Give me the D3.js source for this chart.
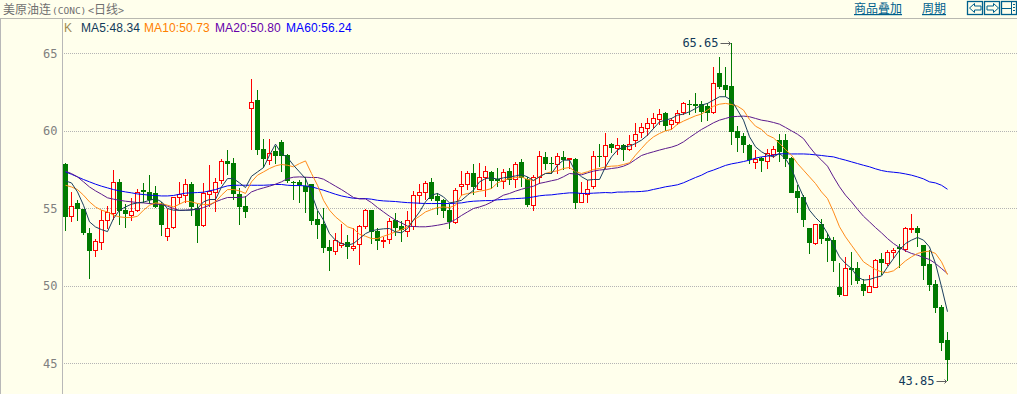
<!DOCTYPE html>
<html>
<head>
<meta charset="utf-8">
<script src="https://cdn.jsdelivr.net/npm/d3@7/dist/d3.min.js"></script>
<style>
html, body { margin: 0; padding: 0; background: #ffffec; overflow: hidden; }
</style>
</head>
<body>
<svg id="chart" width="1017" height="394"></svg>
<script>
// daily candles, oldest first
let opens = [57.86,54.55,55.38,54.95,53.41,52.33,52.87,54.27,54.74,56.74,
	54.89,54.61,54.93,56.18,56.05,55.99,55.28,53.26,53.77,55.71,
	55.90,56.61,55.02,53.88,55.94,56.12,56.80,58.05,57.92,55.92,
	55.15,61.51,61.99,58.82,58.14,58.70,59.30,58.44,56.70,56.68,
	56.48,56.57,54.31,53.99,52.50,52.29,52.65,52.83,52.50,52.65,
	53.90,54.89,53.54,52.91,53.04,54.29,53.86,53.56,53.88,55.90,
	56.07,56.70,55.79,55.53,54.89,54.14,56.40,56.52,57.28,56.31,
	57.04,57.38,56.91,56.80,57.41,56.93,57.99,56.89,55.23,57.00,
	58.31,57.93,57.86,58.31,58.16,58.18,55.41,55.97,56.40,58.38,
	58.36,59.15,58.89,59.07,58.85,59.37,59.88,60.14,60.49,60.79,
	61.15,60.40,60.59,61.17,61.75,61.73,61.71,61.60,61.19,63.73,
	62.96,62.89,60.00,59.67,59.07,58.01,58.25,58.10,58.57,59.40,
	59.40,58.29,56.12,55.71,53.73,52.72,53.99,53.08,52.96,49.92,
	49.47,51.19,51.15,50.10,49.58,49.97,51.73,51.49,52.22,52.50,
	52.35,53.66,53.73,52.63,51.41,50.12,48.63,46.50];
let closes = [54.46,55.19,54.98,53.43,52.27,52.93,54.29,54.80,56.74,54.89,
	54.63,54.87,56.09,56.05,55.53,55.06,53.94,53.77,55.71,55.92,
	56.61,55.10,53.88,55.97,56.16,56.74,58.05,57.86,55.92,55.10,
	54.78,61.90,58.76,58.20,58.61,58.37,58.39,56.78,56.63,56.46,
	56.12,54.20,53.92,52.46,52.27,53.00,52.80,52.52,52.61,53.84,
	54.93,53.47,52.91,52.96,54.22,53.79,53.60,54.29,55.90,56.09,
	56.63,55.62,55.47,54.85,54.14,56.22,56.55,57.26,56.35,57.06,
	57.45,56.82,56.76,57.38,56.82,57.90,56.95,55.21,57.06,58.36,
	57.86,57.88,58.36,58.12,58.25,55.37,55.97,56.29,58.36,58.33,
	59.07,58.89,59.07,58.77,59.17,59.78,60.23,60.49,60.81,61.09,
	60.33,60.68,61.15,61.78,61.71,61.62,61.17,61.17,63.09,62.85,
	62.63,59.95,59.56,59.09,58.08,58.18,58.08,58.59,58.87,58.61,
	58.20,56.05,55.66,54.20,52.76,53.97,53.04,52.91,51.62,49.41,
	51.19,51.06,50.33,49.62,49.97,51.69,51.49,52.20,52.35,52.35,
	53.71,53.71,53.43,51.30,50.07,48.57,46.33,45.24];
let highs = [57.96,56.05,55.58,54.98,53.77,53.06,54.93,55.19,57.47,56.89,
	55.32,55.66,56.29,56.65,57.15,56.48,55.43,55.00,55.71,56.74,
	56.89,56.74,55.28,56.63,57.79,56.95,58.18,58.76,58.29,56.35,
	55.79,63.38,62.63,59.51,59.51,59.02,59.43,58.50,56.78,56.87,
	57.04,56.57,54.83,55.06,52.95,53.45,54.03,53.26,53.77,53.92,
	54.95,54.89,53.71,53.17,54.37,54.68,54.20,54.83,56.12,56.55,
	56.76,56.98,55.97,55.64,55.28,56.35,57.45,57.43,57.86,57.92,
	57.75,57.41,57.62,57.58,57.64,57.99,58.18,57.04,57.15,58.72,
	58.64,58.33,58.59,58.68,58.29,58.23,56.68,56.83,58.72,59.15,
	59.84,59.24,59.52,59.19,59.73,60.49,60.49,60.87,61.13,61.39,
	61.24,60.81,61.35,61.88,61.99,62.42,61.93,61.78,64.10,64.79,
	64.14,65.65,60.31,59.84,59.15,58.76,58.33,58.87,59.02,59.79,
	59.79,58.33,56.50,55.86,53.73,54.03,54.35,53.39,53.17,51.51,
	51.90,52.22,51.56,50.48,50.70,51.71,52.10,52.35,52.48,52.74,
	53.82,54.67,53.86,52.63,52.31,50.37,48.76,47.02];
let lows = [53.54,54.14,54.20,53.26,50.46,51.88,52.31,53.66,54.25,53.92,
	53.75,54.20,54.76,55.36,55.32,55.06,53.23,52.89,53.69,55.26,
	55.38,54.52,52.78,53.81,55.08,54.78,56.57,57.15,55.58,53.92,
	54.40,58.76,58.44,57.64,57.79,57.84,57.36,56.65,55.53,55.36,
	54.72,53.94,53.02,52.14,50.98,51.99,52.48,51.73,52.27,51.34,
	53.66,52.72,52.31,52.44,52.74,53.21,52.83,53.17,53.60,55.32,
	55.53,55.51,54.57,54.37,53.66,54.03,55.79,56.18,55.86,56.24,
	55.75,56.29,56.40,56.29,56.50,56.35,56.40,55.10,54.85,56.55,
	57.47,57.20,57.20,57.47,57.58,54.96,55.33,55.33,56.29,57.69,
	57.58,58.55,58.44,58.08,58.68,58.98,59.52,59.67,60.16,60.38,
	60.01,60.06,60.38,61.02,61.02,61.17,60.59,60.64,61.09,62.68,
	62.20,59.09,58.66,58.55,57.86,57.58,57.37,57.52,58.29,58.01,
	57.69,56.01,54.68,53.81,52.05,52.63,52.74,51.56,50.91,49.30,
	49.41,50.05,50.12,49.36,49.56,49.94,50.70,51.28,51.71,51.13,
	52.20,53.43,52.52,50.37,49.67,48.27,45.82,43.85];

let ma5 = [56.78,56.65,56.07,55.21,54.14,53.81,53.64,53.51,54.35,54.89,
	55.10,55.28,55.36,55.41,55.53,55.64,55.43,55.00,54.89,54.89,
	54.89,54.89,55.00,55.43,55.58,55.58,56.39,56.93,56.93,56.65,
	56.35,57.08,57.36,57.64,58.44,59.15,58.54,58.29,57.79,57.36,
	56.93,55.96,54.89,54.25,53.38,52.95,52.74,52.63,52.74,53.06,
	53.38,53.56,53.64,53.69,53.71,53.49,53.43,53.71,54.25,54.78,
	55.43,55.86,55.97,55.75,55.36,55.43,55.53,55.86,56.18,56.72,
	56.93,56.98,56.89,56.98,57.04,57.10,57.19,57.04,56.80,57.05,
	57.26,57.26,57.80,58.12,58.12,57.37,57.05,56.83,56.87,56.87,
	57.69,58.33,58.77,58.98,59.02,59.19,59.41,59.73,60.16,60.59,
	60.70,60.81,61.02,61.09,61.24,61.45,61.67,61.78,61.99,62.21,
	62.21,61.99,61.35,60.70,59.63,58.98,58.66,58.44,58.33,58.55,
	58.22,57.58,56.61,55.75,54.89,54.42,54.03,53.39,52.63,51.88,
	51.45,51.13,50.59,50.38,50.42,50.55,50.65,51.23,51.77,52.31,
	52.74,52.96,53.13,52.96,52.52,51.45,49.95,48.34];
let ma10 = [56.50,56.39,56.22,55.86,55.43,55.10,54.89,54.78,54.57,54.46,
	54.42,54.42,54.50,54.89,55.21,55.36,55.32,55.21,55.10,55.28,
	55.47,55.43,55.32,55.26,55.26,55.43,55.86,56.22,56.22,56.14,
	55.97,56.72,57.15,57.36,57.58,57.75,57.84,57.79,57.69,57.90,
	58.07,57.26,56.50,55.53,54.89,54.46,54.14,53.82,53.69,53.34,
	53.21,53.06,53.06,53.21,53.34,53.49,53.64,53.82,54.25,54.50,
	54.78,54.93,55.06,55.10,55.06,55.21,55.86,55.97,56.03,56.12,
	56.18,56.29,56.65,56.82,56.93,57.00,57.04,56.87,56.82,57.05,
	57.26,57.37,57.43,57.58,57.65,57.37,57.26,57.37,57.52,57.58,
	57.69,57.73,57.75,57.84,57.95,58.44,58.87,59.30,59.62,59.84,
	60.01,60.10,60.44,60.64,60.81,60.98,61.09,61.35,61.60,61.73,
	61.78,61.71,61.60,61.35,60.74,60.31,60.10,59.73,59.55,59.20,
	58.80,58.44,57.90,57.47,57.04,56.61,56.07,55.64,54.78,53.82,
	53.17,52.63,52.10,51.56,51.30,51.06,50.91,50.87,50.98,51.28,
	51.62,51.88,52.10,52.20,52.25,52.10,51.56,50.73];
let ma20 = [57.41,57.25,57.04,56.72,56.39,56.14,55.92,55.69,55.60,55.53,
	55.47,55.43,55.38,55.36,55.32,55.28,55.26,55.15,55.00,54.87,
	54.89,54.93,54.93,55.06,55.21,55.43,55.58,55.71,55.71,55.71,
	55.75,56.07,56.22,56.33,56.44,56.57,56.72,56.93,57.02,57.04,
	57.02,57.00,57.00,56.89,56.67,56.44,56.22,55.97,55.71,55.62,
	55.62,55.38,55.06,54.78,54.50,54.25,54.07,53.86,53.84,53.82,
	53.82,53.86,53.92,53.99,54.09,54.29,54.55,54.78,55.00,55.10,
	55.23,55.41,55.64,55.86,55.97,56.12,56.24,56.35,56.44,56.62,
	56.70,56.79,56.87,57.05,57.26,57.22,57.17,57.30,57.41,57.48,
	57.52,57.58,57.63,57.73,57.90,58.16,58.42,58.55,58.66,58.77,
	58.87,58.96,59.09,59.30,59.58,59.84,60.10,60.31,60.53,60.70,
	60.81,60.92,60.94,60.96,60.92,60.81,60.70,60.64,60.55,60.44,
	60.23,60.01,59.79,59.51,58.98,58.50,58.12,57.73,57.04,56.40,
	55.86,55.43,54.95,54.50,54.14,53.77,53.43,53.06,52.74,52.48,
	52.27,52.10,51.99,51.84,51.71,51.45,51.13,50.80];
let ma60 = [57.36,57.21,57.04,56.87,56.72,56.57,56.44,56.33,56.22,56.14,
	56.07,56.01,55.94,55.90,55.86,55.84,55.81,55.81,55.84,55.92,
	55.99,56.01,56.03,56.05,56.14,56.22,56.35,56.46,56.50,56.50,
	56.50,56.50,56.50,56.50,56.52,56.55,56.55,56.50,56.48,56.48,
	56.46,56.40,56.29,56.18,56.05,55.92,55.81,55.73,55.66,55.64,
	55.64,55.60,55.53,55.49,55.47,55.45,55.41,55.38,55.36,55.34,
	55.32,55.32,55.32,55.32,55.32,55.34,55.36,55.43,55.47,55.49,
	55.51,55.51,55.56,55.58,55.62,55.64,55.66,55.69,55.75,55.82,
	55.86,55.88,55.93,55.97,56.01,56.01,55.97,55.97,55.99,56.01,
	56.03,56.01,56.06,56.06,56.08,56.08,56.10,56.14,56.23,56.31,
	56.40,56.46,56.53,56.66,56.83,57.00,57.15,57.35,57.48,57.63,
	57.78,57.88,57.95,58.03,58.12,58.25,58.33,58.38,58.44,58.53,
	58.53,58.52,58.52,58.52,58.50,58.46,58.42,58.37,58.33,58.22,
	58.12,58.01,57.90,57.79,57.69,57.56,57.45,57.38,57.34,57.30,
	57.23,57.15,57.04,56.91,56.72,56.65,56.50,56.24];

let yTicks = [45, 50, 55, 60, 65];
let maLabels = ["MA5:48.34", "MA10:50.73", "MA20:50.80", "MA60:56.24"];
let maLabelColors = ["#123a5a", "#ff8000", "#6600aa", "#0000ff"];
let maSeries = [ma60, ma20, ma10, ma5];
let maColors = ["#0000f0", "#5c1a8c", "#ff8c1a", "#1b3f5e"];

let svg = d3.select("#chart");
let width = 1017;
let height = 394;
let green = "#007a00";
let red = "#ff0000";

let xScale = d3.scaleLinear().domain([0, opens.length - 1]).range([65.5, 947.5]);
let yScale = d3.scaleLinear().domain([45, 65]).range([363.5, 53.5]);

// header
svg.append("line").attr("x1", 0).attr("x2", width).attr("y1", 18.5).attr("y2", 18.5)
	.attr("stroke", "#b8b8b0");
svg.append("line").attr("x1", 0.5).attr("x2", 0.5).attr("y1", 18).attr("y2", height)
	.attr("stroke", "#b8b8b8");
let titleParts = [
	{ t: "美原油连", x: 3, font: "'Noto Sans CJK SC'", size: 12 },
	{ t: "(CONC)", x: 52, font: "'DejaVu Sans Mono'", size: 9.5 },
	{ t: "<", x: 88, font: "'DejaVu Sans Mono'", size: 10 },
	{ t: "日线", x: 94, font: "'Noto Sans CJK SC'", size: 12 },
	{ t: ">", x: 118, font: "'DejaVu Sans Mono'", size: 10 }
];
svg.selectAll(".title").data(titleParts).enter().append("text")
	.attr("class", "title")
	.attr("x", d => d.x).attr("y", 14)
	.attr("font-family", d => d.font).attr("font-size", d => d.size).attr("fill", "#707070")
	.text(d => d.t);

// y axis with the dotted grid
let yAxis = d3.axisLeft(yScale).tickValues(yTicks).tickSize(0).tickPadding(5);
let axisG = svg.append("g").attr("transform", "translate(62.5,0)").call(yAxis);
axisG.select(".domain").remove();
axisG.selectAll("text").attr("font-family", "'DejaVu Sans Mono'").attr("font-size", 12).attr("fill", "#808080");
svg.append("line").attr("x1", 62.5).attr("x2", 62.5).attr("y1", 18).attr("y2", height)
	.attr("stroke", "#b8b8b8");
svg.selectAll(".grid").data(yTicks).enter().append("line")
	.attr("class", "grid")
	.attr("x1", 64).attr("x2", width)
	.attr("y1", d => yScale(d)).attr("y2", d => yScale(d))
	.attr("stroke", "#b4b4b4").attr("stroke-dasharray", "1,1")
	.attr("shape-rendering", "crispEdges");

// legend
svg.append("text").attr("x", 64).attr("y", 32)
	.attr("font-family", "'Liberation Sans'").attr("font-size", 12).attr("fill", "#a08a50").text("K");
let legendX = [81, 144, 215, 286];
svg.selectAll(".legend").data(maLabels).enter().append("text")
	.attr("class", "legend")
	.attr("x", (d, i) => legendX[i]).attr("y", 32)
	.attr("font-family", "'Liberation Sans'").attr("font-size", 12)
	.attr("letter-spacing", 0.1)
	.attr("fill", (d, i) => maLabelColors[i])
	.text(d => d);

// candles
let candles = svg.append("g").selectAll("g").data(opens).enter().append("g")
	.attr("shape-rendering", "crispEdges");
candles.append("line")
	.attr("x1", (d, i) => xScale(i)).attr("x2", (d, i) => xScale(i))
	.attr("y1", (d, i) => Math.round(yScale(highs[i])))
	.attr("y2", (d, i) => Math.round(yScale(lows[i])))
	.attr("stroke", (d, i) => closes[i] > d ? red : green);
candles.append("rect")
	.attr("x", (d, i) => closes[i] > d ? xScale(i) - 2 : xScale(i) - 2.5)
	.attr("width", (d, i) => closes[i] > d ? 4 : 5)
	.attr("y", (d, i) => Math.round(yScale(Math.max(d, closes[i]))) + (closes[i] > d ? 0.5 : 0))
	.attr("height", (d, i) => Math.max(1, Math.round(Math.abs(yScale(d) - yScale(closes[i])))))
	.attr("fill", (d, i) => closes[i] > d ? "#ffffec" : green)
	.attr("stroke", (d, i) => closes[i] > d ? red : "none");

// moving averages
let line = d3.line().x((d, i) => xScale(i)).y(d => yScale(d));
svg.selectAll(".ma").data(maSeries).enter().append("path")
	.attr("class", "ma")
	.attr("fill", "none")
	.attr("stroke", (d, i) => maColors[i])
	.attr("stroke-width", 1)
	.attr("d", line);

// high and low markers
let markers = [
	{ label: "65.65", i: 111, value: 65.65, y: 43 },
	{ label: "43.85", i: 147, value: 43.85, y: 381 }
];
let markG = svg.selectAll(".mark").data(markers).enter().append("g").attr("class", "mark");
markG.append("text")
	.attr("x", d => xScale(d.i) - 13).attr("y", d => d.y + 4)
	.attr("text-anchor", "end")
	.attr("font-family", "'DejaVu Sans Mono'").attr("font-size", 12).attr("fill", "#123a5a")
	.text(d => d.label);
markG.append("path")
	.attr("d", d => {
		let x = xScale(d.i), y = d.y + 0.5;
		return `M${x - 11},${y}H${x - 1}M${x - 3},${y - 2}L${x - 1},${y}L${x - 3},${y + 2}`;
	})
	.attr("fill", "none").attr("stroke", "#606060");

// links and buttons on the right of the header
let linkColor = "#00608c";
svg.selectAll(".link").data([{ t: "商品叠加", x: 854 }, { t: "周期", x: 922 }]).enter()
	.append("text").attr("class", "link")
	.attr("x", d => d.x).attr("y", 13)
	.attr("font-family", "'Noto Sans CJK SC'").attr("font-size", 12)
	.attr("fill", linkColor).attr("text-decoration", "underline")
	.text(d => d.t);
let buttons = svg.append("g").attr("fill", "none").attr("stroke", linkColor).attr("stroke-width", 1.3);
[967.5, 984.5, 1001.5].forEach(x => {
	buttons.append("rect").attr("x", x).attr("y", 1.5).attr("width", 15).attr("height", 13);
});
buttons.append("path").attr("stroke-width", 1)
	.attr("d", "M969.5,8L974.5,3.5V6H981V10H974.5V12.5Z");
buttons.append("path").attr("stroke-width", 1)
	.attr("d", "M998.5,8L993.5,3.5V6H987V10H993.5V12.5Z");
buttons.append("path").attr("stroke-width", 1)
	.attr("d", "M1011.5,1.5V14.5M1002,8.5H1011M1013,4.5H1015M1013,7.5H1015M1013,10.5H1015");
</script>
</body>
</html>
